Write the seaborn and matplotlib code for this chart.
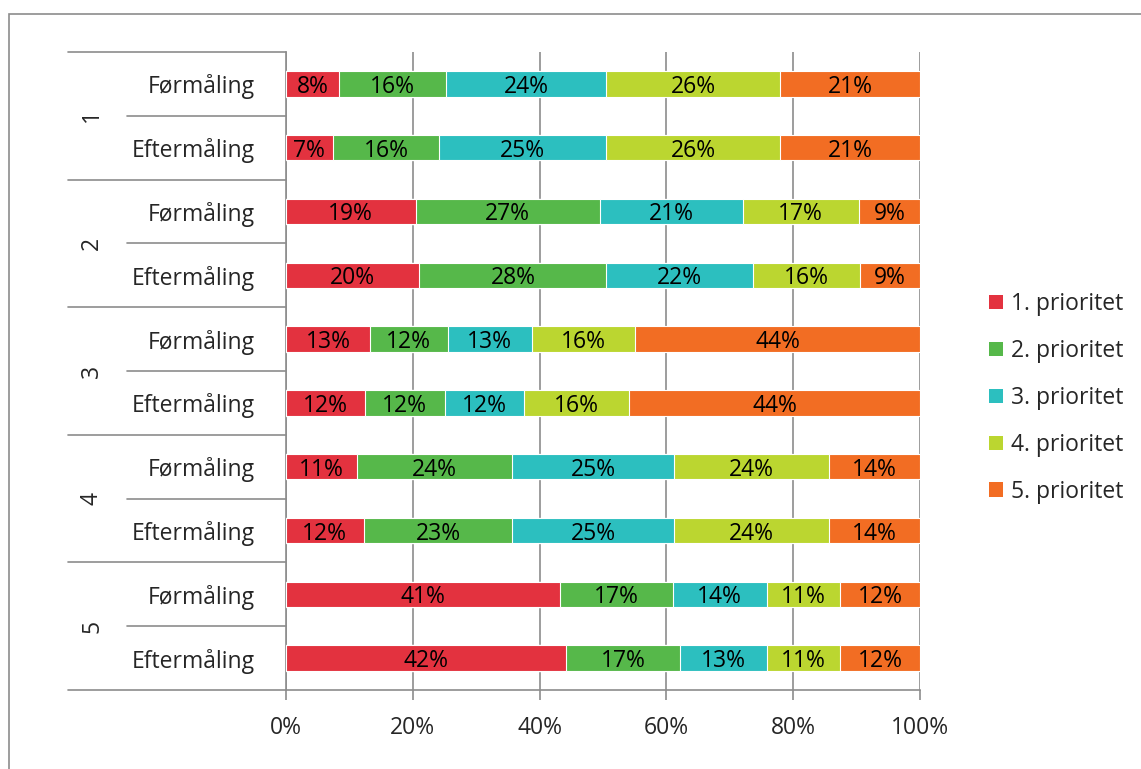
import numpy as np
import pandas as pd
import matplotlib
matplotlib.use("Agg")
import matplotlib.pyplot as plt
import matplotlib.transforms as mtransforms
from matplotlib.patches import Patch, Rectangle
import seaborn as sns

# ---- data ----
groups = ["1", "2", "3", "4", "5"]
measures = ["Førmåling", "Eftermåling"]
series = ["1. prioritet", "2. prioritet", "3. prioritet", "4. prioritet", "5. prioritet"]
p1 = [8, 7, 19, 20, 13, 12, 11, 12, 41, 42]
p2 = [16, 16, 27, 28, 12, 12, 24, 23, 17, 17]
p3 = [24, 25, 21, 22, 13, 12, 25, 25, 14, 13]
p4 = [26, 26, 17, 16, 16, 16, 24, 24, 11, 11]
p5 = [21, 21, 9, 9, 44, 44, 14, 14, 12, 12]
xticks = [0, 20, 40, 60, 80, 100]
colors = ["#E3323F", "#56B84A", "#2CBFBF", "#BBD630", "#F26D23"]

sns.set_theme(style="white")
plt.rcParams["font.family"] = ["Open Sans", "DejaVu Sans"]
FS = 16.5

rows = [f"{g} {m}" for g in groups for m in measures]
vals = np.array([p1, p2, p3, p4, p5], dtype=float)  # series x rows
totals = vals.sum(axis=0)
pct = vals / totals * 100
cum = np.cumsum(pct, axis=0)

fig = plt.figure(figsize=(11.41, 7.69), dpi=100)
W, H = 1141, 769
ax = fig.add_axes([286 / W, 1 - 690 / H, (920 - 286) / W, (690 - 52) / H])

# draw from the full stack down so each layer shows its own segment
for i in range(4, -1, -1):
    df = pd.DataFrame({"row": rows, "cum": cum[i]})
    sns.barplot(data=df, x="cum", y="row", order=rows, orient="h",
                color=colors[i], width=0.4, edgecolor="white", linewidth=0.8,
                saturation=1, ax=ax, zorder=3)

# value labels
for i in range(5):
    start = cum[i] - pct[i]
    for r in range(len(rows)):
        ax.text(start[r] + pct[i][r] / 2, r, f"{int(vals[i][r])}%",
                ha="center", va="center_baseline", fontsize=FS, color="black", zorder=5)

ax.set_xlim(0, 100)
ax.set_ylim(len(rows) - 0.5, -0.5)
ax.set_xticks(xticks)
ax.set_xticklabels([f"{t}%" for t in xticks], fontsize=FS)
ax.set_yticks([])
ax.set_xlabel("")
ax.set_ylabel("")
ax.grid(axis="x", color="#8C8C8C", linewidth=1.2, zorder=0)
ax.set_axisbelow(True)
for s in ["top", "right"]:
    ax.spines[s].set_visible(False)
for s in ["left", "bottom"]:
    ax.spines[s].set_color("#8C8C8C")
    ax.spines[s].set_linewidth(1.2)
ax.tick_params(axis="x", length=7, color="#8C8C8C", width=1.2, pad=12, bottom=True)

# multi-level category axis
tr = mtransforms.blended_transform_factory(fig.transFigure, ax.transData)
for k in range(len(groups) + 1):
    y = 2 * k - 0.5
    ax.plot([68 / W, 286 / W], [y, y], transform=tr, color="#8C8C8C",
            linewidth=1.2, clip_on=False)
for k in range(len(groups)):
    y = 2 * k + 0.5
    ax.plot([127 / W, 286 / W], [y, y], transform=tr, color="#8C8C8C",
            linewidth=1.2, clip_on=False)
    ax.text(92 / W, 2 * k + 0.5, groups[k], transform=tr, rotation=90,
            ha="center", va="center", fontsize=FS)
for r, row in enumerate(rows):
    ax.text(255 / W, r, row.split(" ", 1)[1], transform=tr,
            ha="right", va="center_baseline", fontsize=FS)

# legend
handles = [Patch(facecolor=c, edgecolor="none") for c in colors]
fig.legend(handles, series, loc="center left", bbox_to_anchor=(989 / W, 1 - 398 / H),
           frameon=False, fontsize=FS, handlelength=0.6, handleheight=0.6,
           handletextpad=0.35, labelspacing=1.0, borderaxespad=0, borderpad=0)

# outer chart frame
fig.patches.append(Rectangle((9 / W, -0.05), 1.2, 1 - 14 / H + 0.05,
                             transform=fig.transFigure, fill=False,
                             edgecolor="#8C8C8C", linewidth=1.2))

fig.savefig("out.png", dpi=100)
